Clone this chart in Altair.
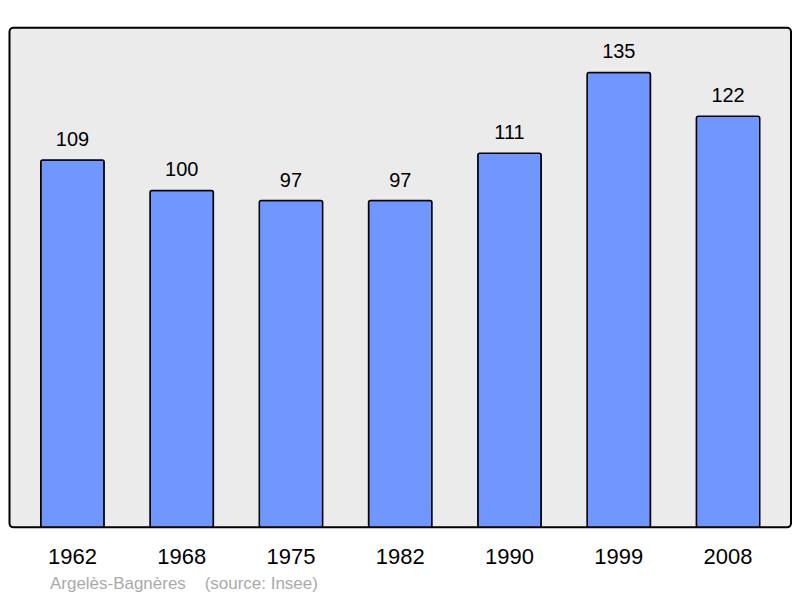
import altair as alt
import pandas as pd

years = ["1962", "1968", "1975", "1982", "1990", "1999", "2008"]
population = [109, 100, 97, 97, 111, 135, 122]
footer = "Argelès-Bagnères\u00a0\u00a0\u00a0\u00a0(source: Insee)"

df = pd.DataFrame({"year": years, "pop": population})

x = alt.X("year:N", sort=None,
          scale=alt.Scale(paddingInner=0.42, paddingOuter=0.286),
          axis=alt.Axis(title=footer, labelAngle=0, labelFontSize=22,
                        labelColor="#000000", labelFont="Liberation Sans",
                        labelPadding=19, ticks=False, domain=False,
                        titleFont="Liberation Sans", titleFontSize=17,
                        titleFontWeight="normal", titleColor="#aaaaaa",
                        titleAnchor="start", titleAlign="left",
                        titleX=40, titleY=56, titleBaseline="middle"))
y = alt.Y("pop:Q", scale=alt.Scale(domain=[0, 148.3], nice=False),
          axis=None)

bars = alt.Chart(df).mark_bar(
    color="#7096ff", stroke="#000000", strokeWidth=1.5, cornerRadius=2
).encode(x=x, y=y)

labels = alt.Chart(df).mark_text(
    baseline="bottom", dy=-10, fontSize=20, font="Liberation Sans", color="#000000"
).encode(x=x, y=y, text="pop:Q")

chart = (bars + labels).properties(
    width=782, height=500,
    autosize=alt.AutoSizeParams(type="none"),
    padding={"left": 1.5, "top": 19.5, "right": 1, "bottom": 66},
    background="#ffffff"
).configure_view(
    fill="#ebebeb", stroke="#000000", strokeWidth=2, cornerRadius=4
)

chart.save("out.html", embed_options={"renderer": "svg", "actions": False})
